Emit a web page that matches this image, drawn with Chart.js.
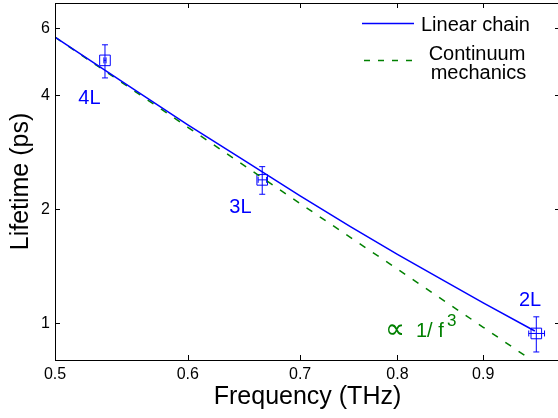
<!DOCTYPE html>
<html>
<head>
<meta charset="utf-8">
<script src="https://cdn.jsdelivr.net/npm/chart.js@4/dist/chart.umd.min.js"></script>
<style>
html, body { margin: 0; padding: 0; background: #fff; overflow: hidden; }
#wrap { width: 558px; height: 418px; overflow: hidden; }
</style>
</head>
<body>
<div id="wrap"><canvas id="chart-lifetime" width="564" height="418"></canvas></div>
<script>
const FONT = "'Liberation Sans', Arial, Helvetica, sans-serif";

// linear chain model
const chainFreq = [0.5, 0.55, 0.6, 0.65, 0.7, 0.75, 0.8, 0.85, 0.9, 0.966];
const chainLife = [5.69, 4.30, 3.34, 2.67, 2.17, 1.80, 1.52, 1.305, 1.132, 0.954];

// continuum mechanics, goes like 1/f^3
const contFreq = [0.5, 0.6, 0.7, 0.8, 0.9, 0.9525];
const contLife = [5.69, 3.29, 2.07, 1.39, 0.976, 0.823];

// measured lifetimes
const layerNames = ['4L', '3L', '2L'];
const measFreq = [0.5355, 0.6645, 0.968];
const measLife = [4.94, 2.39, 0.94];
const lifeLow = [4.44, 2.19, 0.84];
const lifeHigh = [5.43, 2.59, 1.04];
const freqLow = [0.5347, 0.6608, 0.958];
const freqHigh = [0.5363, 0.6685, 0.979];

const xTicks = [0.5, 0.6, 0.7, 0.8, 0.9];
const yTicks = [1, 2, 4, 6];

const BLUE = '#0000ff';
const GREEN = '#008000';

const toPoints = (xs, ys) => xs.map((v, i) => ({ x: v, y: ys[i] }));

const frame = {
    id: 'frame',
    afterDatasetsDraw(chart) {
        const { ctx, scales: { x, y } } = chart;
        ctx.save();
        ctx.strokeStyle = BLUE;
        ctx.lineWidth = 1;
        ctx.beginPath();
        measFreq.forEach((f, i) => {
            const px = x.getPixelForValue(f);
            const py = y.getPixelForValue(measLife[i]);
            const y0 = y.getPixelForValue(lifeLow[i]);
            const y1 = y.getPixelForValue(lifeHigh[i]);
            const x0 = x.getPixelForValue(freqLow[i]);
            const x1 = x.getPixelForValue(freqHigh[i]);
            // vertical bar
            ctx.moveTo(px, y0); ctx.lineTo(px, y1);
            ctx.moveTo(px - 3, y0); ctx.lineTo(px + 3, y0);
            ctx.moveTo(px - 3, y1); ctx.lineTo(px + 3, y1);
            // horizontal bar
            ctx.moveTo(x0, py); ctx.lineTo(x1, py);
            ctx.moveTo(x0, py - 3); ctx.lineTo(x0, py + 3);
            ctx.moveTo(x1, py - 3); ctx.lineTo(x1, py + 3);
        });
        ctx.stroke();

        // layer labels
        const offs = [[-15.5, 43.4], [-21.8, 33.4], [-6.2, -27.3]];
        ctx.fillStyle = BLUE;
        ctx.font = '20px ' + FONT;
        ctx.textAlign = 'center';
        ctx.textBaseline = 'alphabetic';
        layerNames.forEach((name, i) => {
            const px = x.getPixelForValue(measFreq[i]);
            const py = y.getPixelForValue(measLife[i]);
            ctx.fillText(name, px + offs[i][0], py + offs[i][1]);
        });
        ctx.restore();
    },
    afterDraw(chart) {
        const { ctx, chartArea: a, scales: { x, y } } = chart;
        ctx.save();
        ctx.strokeStyle = '#000';
        ctx.lineWidth = 1;
        ctx.strokeRect(Math.round(a.left) + 0.5, Math.round(a.top) + 0.5,
            Math.round(a.right - a.left), Math.round(a.bottom - a.top));

        ctx.beginPath();
        xTicks.forEach(v => {
            const px = Math.round(x.getPixelForValue(v)) + 0.5;
            ctx.moveTo(px, a.bottom); ctx.lineTo(px, a.bottom - 5);
            ctx.moveTo(px, a.top); ctx.lineTo(px, a.top + 5);
        });
        yTicks.forEach(v => {
            const py = Math.round(y.getPixelForValue(v)) + 0.5;
            ctx.moveTo(a.left, py); ctx.lineTo(a.left + 5, py);
            ctx.moveTo(a.right, py); ctx.lineTo(a.right - 5, py);
        });
        ctx.stroke();

        // legend
        ctx.lineWidth = 1.5;
        ctx.strokeStyle = BLUE;
        ctx.beginPath(); ctx.moveTo(362, 23.5); ctx.lineTo(414, 23.5); ctx.stroke();
        ctx.strokeStyle = GREEN;
        ctx.setLineDash([6, 8]);
        ctx.beginPath(); ctx.moveTo(364, 60.5); ctx.lineTo(414, 60.5); ctx.stroke();
        ctx.setLineDash([]);

        ctx.fillStyle = '#000';
        ctx.font = '20px ' + FONT;
        ctx.textAlign = 'left';
        ctx.fillText('Linear chain', 421, 31);
        ctx.textAlign = 'center';
        ctx.fillText('Continuum', 477, 60);
        ctx.fillText('mechanics', 478.5, 78.5);

        // 1/f^3 note
        ctx.fillStyle = GREEN;
        ctx.textAlign = 'left';
        ctx.font = "28px 'DejaVu Sans', sans-serif";
        ctx.fillText('\u221D', 385, 338);
        ctx.font = '20px ' + FONT;
        ctx.fillText('1/ f', 416, 337);
        ctx.font = '17px ' + FONT;
        ctx.fillText('3', 447, 326);
        ctx.restore();
    }
};

const configLifetime = new Chart(
    document.getElementById('chart-lifetime'), {
    type: 'scatter',
    data: {
        datasets: [{
            label: 'Linear chain',
            data: toPoints(chainFreq, chainLife),
            showLine: true,
            borderColor: BLUE,
            borderWidth: 1.5,
            pointRadius: 0,
            tension: 0
        }, {
            label: 'Continuum mechanics',
            data: toPoints(contFreq, contLife),
            showLine: true,
            borderColor: GREEN,
            borderWidth: 1.5,
            borderDash: [7, 9],
            pointRadius: 0,
            tension: 0
        }, {
            label: 'Measured',
            data: toPoints(measFreq, measLife),
            showLine: false,
            pointStyle: 'rect',
            pointRadius: 7.5,
            borderColor: BLUE,
            backgroundColor: 'rgba(0,0,0,0)',
            borderWidth: 1
        }]
    },
    options: {
        responsive: false,
        animation: false,
        devicePixelRatio: 1,
        layout: { autoPadding: false, padding: { top: 3, right: 4, left: 0, bottom: 0 } },
        plugins: {
            legend: { display: false },
            tooltip: { enabled: false }
        },
        scales: {
            x: {
                type: 'logarithmic',
                min: 0.5,
                max: 1.0,
                afterBuildTicks: s => { s.ticks = xTicks.map(v => ({ value: v })); },
                afterFit: s => { s.height = 58; s.paddingLeft = 0; s.paddingRight = 0; },
                grid: { display: false, drawTicks: false },
                border: { display: false },
                ticks: {
                    color: '#000',
                    font: { family: FONT, size: 16 },
                    padding: 5,
                    maxRotation: 0,
                    autoSkip: false,
                    callback: v => String(v)
                },
                title: {
                    display: true,
                    text: 'Frequency (THz)',
                    color: '#000',
                    font: { family: FONT, size: 25 },
                    padding: { top: 0, bottom: 6 }
                }
            },
            y: {
                type: 'logarithmic',
                min: 0.8,
                max: 7,
                afterBuildTicks: s => { s.ticks = yTicks.map(v => ({ value: v })); },
                afterFit: s => { s.width = 55; s.paddingTop = 0; s.paddingBottom = 0; },
                grid: { display: false, drawTicks: false },
                border: { display: false },
                ticks: {
                    color: '#000',
                    font: { family: FONT, size: 16 },
                    padding: 5,
                    autoSkip: false,
                    callback: v => String(v)
                },
                title: {
                    display: true,
                    text: 'Lifetime (ps)',
                    color: '#000',
                    font: { family: FONT, size: 25 },
                    padding: { top: 6, bottom: 0 }
                }
            }
        }
    },
    plugins: [frame]
});
</script>
</body>
</html>
